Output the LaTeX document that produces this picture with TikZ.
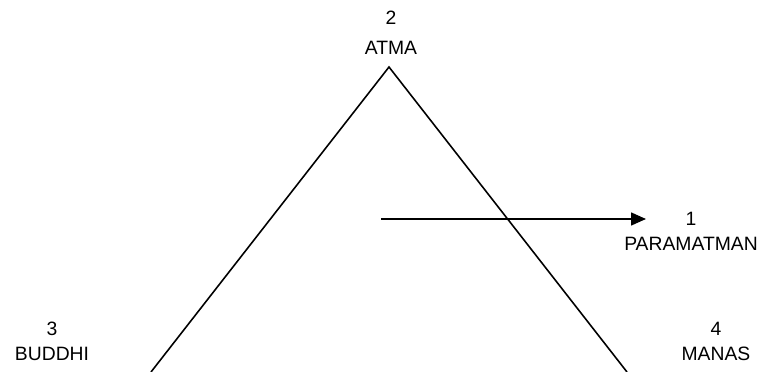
\documentclass[tikz,border=0pt]{standalone}
\usepackage{fontspec}
\setmainfont{Liberation Sans}
\usepackage{tikz}
\usetikzlibrary{arrows.meta, positioning}
\tikzset{
  label/.style={align=center, font=\fontsize{11}{14.2}\selectfont, inner sep=0pt},
  edge/.style={line width=0.9pt, color=black},
  arrow/.style={-{Triangle[length=0.3cm, width=0.26cm]}, line width=0.9pt}
}
\begin{document}
\begin{tikzpicture}[x=0.02cm, y=-0.02cm]
  \useasboundingbox (0,0) rectangle (765,372);

  % Corners of the triangle
  \coordinate (apex) at (389,67);
  \coordinate (left) at (151,372);
  \coordinate (right) at (627,372);

  % Labels
  \node[label, font=\fontsize{11}{17}\selectfont] (atma) at (391,33) {2\\ATMA};
  \node[label] (paramatman) at (691,231) {1\\PARAMATMAN};
  \node[label] (buddhi) at (52,341) {3\\BUDDHI};
  \node[label] (manas) at (716,341) {4\\MANAS};

  % Sides
  \draw[edge] (left) -- (apex) -- (right);

  % Arrow towards the Paramatman
  \coordinate (start) at (381,219);
  \coordinate (tip) at (646,219);
  \draw[arrow] (start) -- (tip);
\end{tikzpicture}
\end{document}
